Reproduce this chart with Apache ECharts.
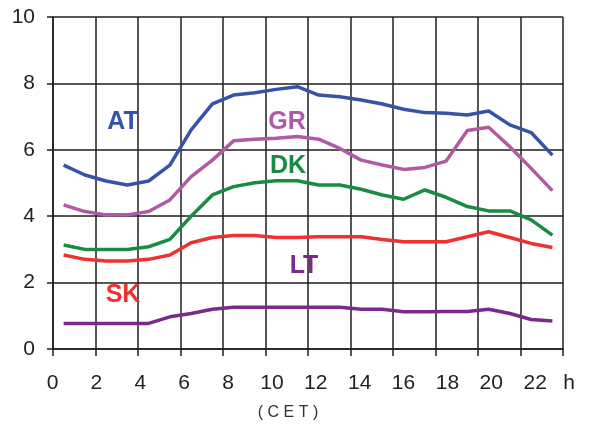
<!DOCTYPE html>
<html>
<head>
<meta charset="utf-8">
<script src="https://cdn.jsdelivr.net/npm/echarts@6/dist/echarts.min.js"></script>
<style>
    html, body { margin: 0; padding: 0; background: #fff; }
    #div_echarts { width: 589px; height: 426px; }
</style>
</head>
<body>
<div id="div_echarts"></div>
<script>
// hours (CET), one point per half hour
var hours = [0.5, 1.5, 2.5, 3.5, 4.5, 5.5, 6.5, 7.5, 8.5, 9.5, 10.5, 11.5,
    12.5, 13.5, 14.5, 15.5, 16.5, 17.5, 18.5, 19.5, 20.5, 21.5, 22.5, 23.5];
var AT = [5.54, 5.24, 5.06, 4.94, 5.06, 5.54, 6.6, 7.38, 7.65, 7.72, 7.82, 7.9,
    7.65, 7.6, 7.5, 7.38, 7.22, 7.12, 7.1, 7.05, 7.17, 6.75, 6.52, 5.84];
var GR = [4.34, 4.14, 4.04, 4.04, 4.14, 4.49, 5.19, 5.69, 6.27, 6.32, 6.35, 6.4,
    6.32, 6.04, 5.69, 5.54, 5.41, 5.47, 5.66, 6.58, 6.68, 6.09, 5.44, 4.77];
var DK = [3.13, 3.0, 3.0, 3.0, 3.08, 3.3, 4.0, 4.64, 4.89, 5.01, 5.07, 5.07,
    4.94, 4.94, 4.81, 4.64, 4.51, 4.79, 4.57, 4.29, 4.16, 4.16, 3.89, 3.43];
var SK = [2.83, 2.7, 2.65, 2.65, 2.7, 2.83, 3.2, 3.36, 3.42, 3.42, 3.36, 3.36,
    3.38, 3.38, 3.38, 3.3, 3.23, 3.23, 3.23, 3.38, 3.53, 3.36, 3.18, 3.06];
var LT = [0.77, 0.77, 0.77, 0.77, 0.77, 0.97, 1.07, 1.2, 1.26, 1.26, 1.26, 1.26,
    1.26, 1.26, 1.2, 1.2, 1.12, 1.12, 1.13, 1.13, 1.2, 1.07, 0.89, 0.84];
var xTickLabels = ['0', '2', '4', '6', '8', '10', '12', '14', '16', '18', '20', '22', 'h'];

var font = '"Liberation Sans", Arial, sans-serif';
var gridColor = '#1e1e1e';

var toPairs = function (ys) {
    return hours.map(function (h, i) { return [h, ys[i]]; });
};

var lineSeries = function (name, ys, color) {
    return {
        name: name,
        type: 'line',
        data: toPairs(ys),
        symbol: 'none',
        lineStyle: { color: color, width: 3.5 },
        z: 3
    };
};

var countries = [
    { name: 'AT', data: AT, color: '#3753a8', x: 123, y: 122 },
    { name: 'GR', data: GR, color: '#b05aa6', x: 287, y: 122 },
    { name: 'DK', data: DK, color: '#178c42', x: 288, y: 166 },
    { name: 'SK', data: SK, color: '#ee3131', x: 123, y: 295 },
    { name: 'LT', data: LT, color: '#7a2a8f', x: 304, y: 266 }
];

var myChart = echarts.init(document.getElementById('div_echarts'));
var option = {
    animation: false,
    backgroundColor: '#fff',
    grid: [
        { left: 53, top: 17, width: 510, height: 332 },
        // only for the x tick labels, which sit a bit wider than the grid
        { left: 52.5, top: 17, width: 526.5, height: 332 }
    ],
    xAxis: [
        {
            type: 'value', min: 0, max: 24, interval: 2, gridIndex: 0,
            axisLine: { show: true, lineStyle: { color: gridColor, width: 1.5 } },
            axisTick: { show: true, length: 7, lineStyle: { color: gridColor, width: 1.5 } },
            axisLabel: { show: false },
            splitLine: { show: true, lineStyle: { color: gridColor, width: 1.5 } }
        },
        {
            type: 'value', min: 0, max: 24, interval: 2, gridIndex: 1,
            axisLine: { show: false },
            axisTick: { show: false },
            splitLine: { show: false },
            axisLabel: {
                margin: 24,
                fontSize: 21,
                fontFamily: font,
                color: '#222',
                formatter: function (v) {
                    var s = xTickLabels[Math.round(v / 2)];
                    return s === 'h' ? '{h|h}' : s;
                },
                rich: { h: { fontSize: 21, fontFamily: font, color: '#222', padding: [0, 20, 0, 0] } }
            }
        }
    ],
    yAxis: [
        {
            type: 'value', min: 0, max: 10, interval: 2, gridIndex: 0,
            axisLine: { show: true, lineStyle: { color: gridColor, width: 1.5 } },
            axisTick: { show: true, length: 6, lineStyle: { color: gridColor, width: 1.5 } },
            axisLabel: { margin: 18, fontSize: 21, fontFamily: font, color: '#222' },
            splitLine: { show: true, lineStyle: { color: gridColor, width: 1.5 } }
        },
        { type: 'value', min: 0, max: 10, gridIndex: 1, show: false }
    ],
    series: countries.map(function (c) { return lineSeries(c.name, c.data, c.color); }),
    graphic: countries.map(function (c) {
        return {
            type: 'text',
            x: c.x,
            y: c.y,
            z: 10,
            style: {
                text: c.name,
                fill: c.color,
                font: 'bold 25px ' + font,
                textAlign: 'center',
                textVerticalAlign: 'middle'
            }
        };
    }).concat([{
        type: 'text',
        x: 288,
        y: 413,
        style: {
            text: '( C E T )',
            fill: '#333',
            font: '16px ' + font,
            textAlign: 'center',
            textVerticalAlign: 'middle'
        }
    }])
};
myChart.setOption(option);
</script>
</body>
</html>
